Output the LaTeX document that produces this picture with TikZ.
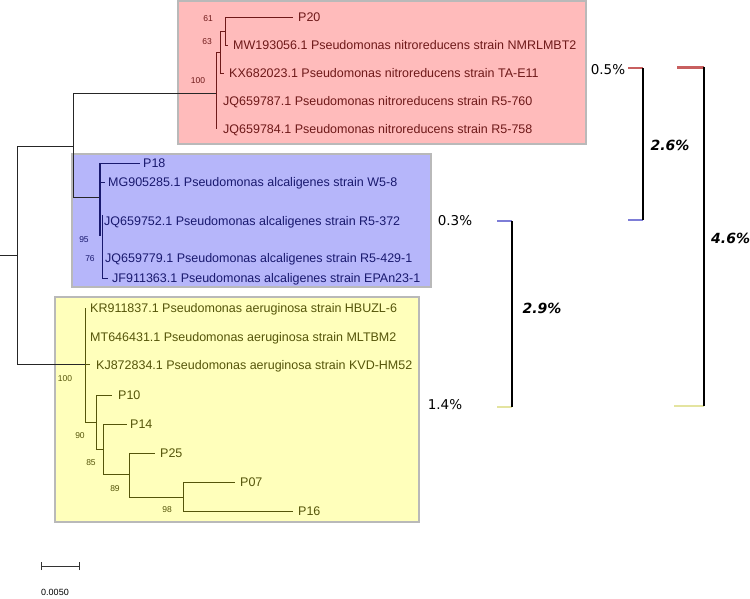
\documentclass[tikz,border=0pt]{standalone}
\usepackage{fontspec}
\setmainfont{Liberation Sans}
\newfontfamily\dvs{DejaVu Sans}
\definecolor{redfill}{RGB}{255,187,187}
\definecolor{redtxt}{RGB}{110,25,25}
\definecolor{bluefill}{RGB}{182,182,250}
\definecolor{bluetxt}{RGB}{25,25,110}
\definecolor{yelfill}{RGB}{255,255,187}
\definecolor{yeltxt}{RGB}{85,85,10}
\definecolor{boxedge}{RGB}{185,185,185}
\definecolor{redstub}{RGB}{200,95,95}
\definecolor{bluestub}{RGB}{125,125,215}
\definecolor{yelstub}{RGB}{228,228,160}
\begin{document}
\begin{tikzpicture}[x=1pt,y=-1pt,
  clade/.style={draw=boxedge,line width=1.5pt},
  br/.style={line width=1pt},
  lab/.style={anchor=base west,inner sep=0pt,yshift=-4.5pt,font=\fontsize{12.5}{15}\selectfont},
  boot/.style={inner sep=0pt,font=\fontsize{8.5}{10}\selectfont},
  pct/.style={inner sep=0pt,font=\dvs\fontsize{13.5}{16}\selectfont},
  dist/.style={inner sep=0pt,font=\dvs\bfseries\itshape\fontsize{14}{17}\selectfont},
  stub/.style={line width=2.5pt},
  brk/.style={line width=1.1pt,black}]
\useasboundingbox (0,0) rectangle (750,598);
% clade boxes
\fill[redfill] (178,1) rectangle (586,144);
\draw[clade] (178,1) rectangle (586,144);
\fill[bluefill] (72,154) rectangle (431,287);
\draw[clade] (72,154) rectangle (431,287);
\fill[yelfill] (55,297) rectangle (419,522);
\draw[clade] (55,297) rectangle (419,522);
% backbone
\coordinate (root) at (17,255);
\coordinate (rootstub) at (0,255);
\coordinate (n1) at (73,146);
\coordinate (r100) at (216,93);
\coordinate (b95) at (100,197);
\coordinate (yA) at (85,364);
\draw[br,black!85] (rootstub) -- (root);
\draw[br,black!85] (17,146) -- (17,364);
\draw[br,black!85] (17,146) -- (n1);
\draw[br,black!85] (73,93) -- (73,197);
\draw[br,black!85] (73,93) -- (r100);
\draw[br,black!85] (73,197) -- (b95);
\draw[br,black!85] (17,364) -- (yA);
% red clade
\begin{scope}[redtxt]
\draw[br] (216,52) -- (216,129);
\draw[br] (216,52) -- (220,52);
\draw[br] (220,31) -- (220,73);
\draw[br] (220,31) -- (225,31);
\draw[br] (220,73) -- (224,73);
\draw[br] (225,17) -- (225,45);
\draw[br] (225,17) -- (293,17);
\draw[br] (225,45) -- (228,45);
\node[lab] (p20) at (298,17) {P20};
\node[lab] (mw) at (233,45) {MW193056.1 Pseudomonas nitroreducens strain NMRLMBT2};
\node[lab] (kx) at (229,73) {KX682023.1 Pseudomonas nitroreducens strain TA-E11};
\node[lab] (jq787) at (223,101) {JQ659787.1 Pseudomonas nitroreducens strain R5-760};
\node[lab] (jq784) at (223,129) {JQ659784.1 Pseudomonas nitroreducens strain R5-758};
\node[boot] (bs61) at (208,19) {61};
\node[boot] (bs63) at (207,42) {63};
\node[boot] (bs100r) at (198,81) {100};
\end{scope}
% blue clade
\begin{scope}[bluetxt]
\draw[line width=2pt] (100,163) -- (100,236);
\draw[br] (100,163) -- (140,163);
\draw[br] (100,182) -- (105,182);
\draw[br] (102,215) -- (102,278);
\draw[br] (102,278) -- (108,278);
\node[lab] (p18) at (143,163) {P18};
\node[lab] (mg) at (108,182) {MG905285.1 Pseudomonas alcaligenes strain W5-8};
\node[lab] (jq752) at (104,221) {JQ659752.1 Pseudomonas alcaligenes strain R5-372};
\node[lab] (jq779) at (105,258) {JQ659779.1 Pseudomonas alcaligenes strain R5-429-1};
\node[lab] (jf) at (112,278) {JF911363.1 Pseudomonas alcaligenes strain EPAn23-1};
\node[boot] (bs95) at (84,240) {95};
\node[boot] (bs76) at (90,259) {76};
\end{scope}
% yellow clade
\begin{scope}[yeltxt]
\draw[br] (85,308) -- (85,422);
\draw[br] (85,364) -- (90,364);
\draw[br] (85,422) -- (96,422);
\draw[br] (96,395) -- (96,449);
\draw[br] (96,395) -- (112,395);
\draw[br] (96,449) -- (103,449);
\draw[br] (103,424) -- (103,474);
\draw[br] (103,424) -- (127,424);
\draw[br] (103,474) -- (129,474);
\draw[br] (129,453) -- (129,497);
\draw[br] (129,453) -- (155,453);
\draw[br] (129,497) -- (183,497);
\draw[br] (183,482) -- (183,511);
\draw[br] (183,482) -- (235,482);
\draw[br] (183,511) -- (293,511);
\node[lab] (kr) at (90,308) {KR911837.1 Pseudomonas aeruginosa strain HBUZL-6};
\node[lab] (mt) at (90,337) {MT646431.1 Pseudomonas aeruginosa strain MLTBM2};
\node[lab] (kj) at (96,365) {KJ872834.1 Pseudomonas aeruginosa strain KVD-HM52};
\node[lab] (p10) at (118,395) {P10};
\node[lab] (p14) at (130,424) {P14};
\node[lab] (p25) at (160,453) {P25};
\node[lab] (p07) at (240,482) {P07};
\node[lab] (p16) at (298,511) {P16};
\node[boot] (bs100y) at (65,379) {100};
\node[boot] (bs90) at (80,436) {90};
\node[boot] (bs85) at (91,463) {85};
\node[boot] (bs89) at (115,489) {89};
\node[boot] (bs98) at (167,510) {98};
\end{scope}
% distance brackets
\coordinate (a1) at (628,68); \coordinate (a2) at (643,68);
\coordinate (a3) at (643,220); \coordinate (a4) at (628,220);
\draw[stub,redstub] (a1) -- (a2);
\draw[stub,bluestub] (a4) -- (a3);
\draw[brk] (a2) -- (a3);
\node[pct] (w1) at (608,70) {0.5\%};
\node[dist] (d1) at (670,145) {2.6\%};
\coordinate (b1) at (497,221); \coordinate (b2) at (512,221);
\coordinate (b3) at (512,407); \coordinate (b4) at (497,407);
\draw[stub,bluestub] (b1) -- (b2);
\draw[stub,yelstub] (b4) -- (b3);
\draw[brk] (b2) -- (b3);
\node[pct] (w2) at (455,221) {0.3\%};
\node[pct] (w3) at (445,405) {1.4\%};
\node[dist] (d2) at (542,308) {2.9\%};
\coordinate (c1) at (677,67); \coordinate (c2) at (704,67);
\coordinate (c3) at (704,406); \coordinate (c4) at (674,406);
\draw[stub,line width=3pt,redstub] (c1) -- (c2);
\draw[stub,yelstub] (c4) -- (c3);
\draw[brk] (c2) -- (c3);
\node[dist,anchor=west] (d3) at (711,238) {4.6\%};
% scale bar
\coordinate (s1) at (41,566); \coordinate (s2) at (79,566);
\draw[br,black!80] (s1) -- (s2);
\draw[br,black!80] ([yshift=-4pt]s1) -- ([yshift=4pt]s1);
\draw[br,black!80] ([yshift=-4pt]s2) -- ([yshift=4pt]s2);
\node[boot,font=\fontsize{9}{11}\selectfont] (sc) at (55,592) {0.0050};
\end{tikzpicture}
\end{document}
